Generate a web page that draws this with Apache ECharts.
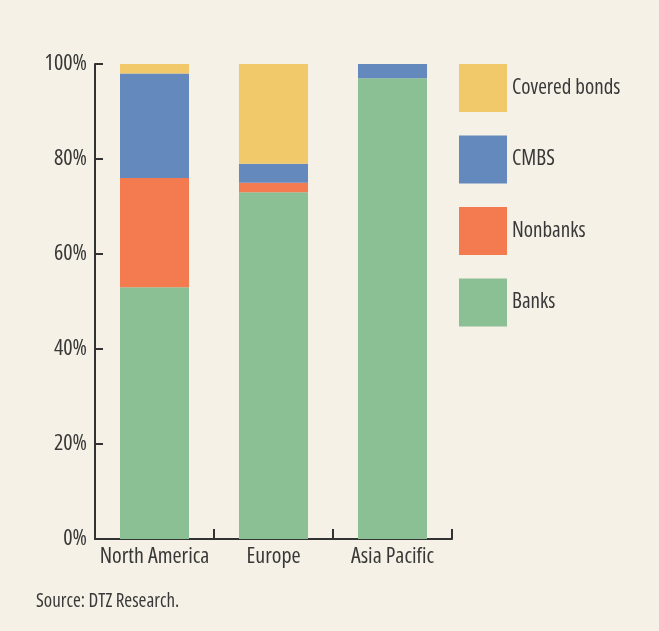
<!DOCTYPE html>
<html>
<head>
<meta charset="utf-8">
<script src="https://cdn.jsdelivr.net/npm/echarts@6/dist/echarts.min.js"></script>
<style>
  html, body { margin: 0; padding: 0; background: #f6f1e6; }
  #topline { position: absolute; left: 0; top: 3px; width: 659px; height: 2px; background: #c9a55c; }
  #chart { width: 659px; height: 631px; }
</style>
</head>
<body>
<div id="topline"></div>
<div id="chart"></div>
<script>
// 各地区的贷款来源占比 (%)
const regions = ['North America', 'Europe', 'Asia Pacific']
const banks = [53, 73, 97]
const nonbanks = [23, 2, 0]
const cmbs = [22, 4, 3]
const coveredBonds = [2, 21, 0]
const yTicks = [0, 20, 40, 60, 80, 100]

// 画布字体串: style weight size family，借 fontWeight 塞进 condensed
const fontFamily = '"Open Sans", sans-serif'
const narrow = 'normal condensed'
const textColor = '#383838'
const axisColor = '#333'

const chart = echarts.init(document.getElementById('chart'))

const makeSeries = (name, data, color) => ({
  name,
  type: 'bar',
  stack: 'total',
  data,
  barWidth: '58%',
  itemStyle: { color },
  emphasis: { disabled: true }
})

const option = {
  backgroundColor: '#f6f1e6',
  animation: false,
  grid: { left: 95, right: 207, top: 64, bottom: 92, containLabel: false },
  legend: {
    orient: 'vertical',
    left: 459,
    top: 64,
    padding: 0,
    icon: 'rect',
    itemWidth: 48,
    itemHeight: 48,
    itemGap: 23.5,
    data: ['Covered bonds', 'CMBS', 'Nonbanks', 'Banks'],
    textStyle: { fontFamily, fontWeight: narrow, fontSize: 21, color: textColor },
    selectedMode: false
  },
  xAxis: {
    type: 'category',
    data: regions,
    axisLine: { lineStyle: { color: axisColor, width: 2 } },
    axisTick: { show: true, interval: 0, inside: true, length: 10, lineStyle: { color: axisColor, width: 2 } },
    axisLabel: { interval: 0, fontFamily, fontWeight: narrow, fontSize: 22, color: textColor, margin: 7 }
  },
  yAxis: {
    type: 'value',
    min: yTicks[0],
    max: yTicks[yTicks.length - 1],
    interval: 20,
    axisLine: { show: true, lineStyle: { color: axisColor, width: 2 } },
    axisTick: { show: true, inside: true, length: 8, lineStyle: { color: axisColor, width: 2 } },
    splitLine: { show: false },
    axisLabel: { fontFamily, fontWeight: narrow, fontSize: 22, color: textColor, margin: 8, formatter: '{value}%' }
  },
  graphic: [{
    type: 'text',
    left: 36,
    top: 592,
    style: { text: 'Source: DTZ Research.', fontFamily, fontWeight: narrow, fontSize: 19, fill: textColor }
  }],
  series: [
    makeSeries('Banks', banks, '#8bbf94'),
    makeSeries('Nonbanks', nonbanks, '#f47b4f'),
    makeSeries('CMBS', cmbs, '#6489bc'),
    makeSeries('Covered bonds', coveredBonds, '#f2c96a')
  ]
}

chart.setOption(option)
</script>
</body>
</html>
